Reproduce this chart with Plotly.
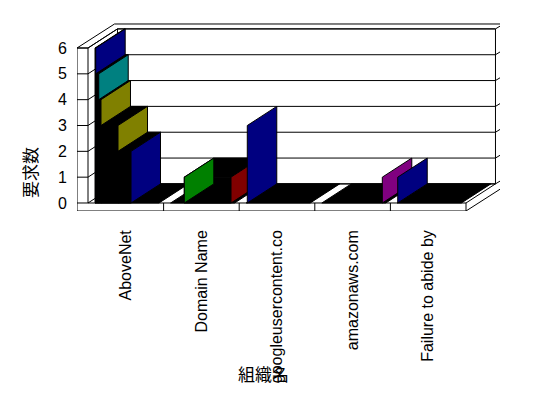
import plotly.graph_objects as go

# ---------------- data ----------------
categories = ["AboveNet", "Domain Name", "googleusercontent.co", "amazonaws.com", "Failure to abide by"]
value_ticks = [0, 1, 2, 3, 4, 5, 6]

bar_category = [0, 0, 0, 0, 0, 1, 1, 2, 3, 4]
bar_value = [6, 5, 4, 3, 2, 1, 1, 3, 1, 1]
bar_color = ["#000080", "#008080", "#808000", "#808000", "#000080",
             "#800000", "#008000", "#000080", "#800080", "#000080"]

# ---------------- layout of the pseudo-3D drawing ----------------
# bar front edges as fractions of a category slot
bar_front_left = [0.093, 0.102, 0.142, 0.172, 0.397, 0.274, 0.274, 0.107, 0.893, 0.097]
bar_front_right = [0.102, 0.142, 0.172, 0.397, 0.569, 0.892, 0.274, 0.107, 0.893, 0.097]
floor_span = (0.093, 0.939)

DX, DY = 0.39, 0.74          # depth offset (category units, value units)
WALL_L = 0.1455              # left wall thickness (category units)
FLOOR_T = 0.31               # floor thickness (value units)
BX, BY = 0.106, 0.19         # back wall thickness offset
NC = len(categories)
VMAX = max(value_ticks)

fig = go.Figure()


def poly(xs, ys, fill, line="black", width=1):
    fig.add_trace(go.Scatter(x=list(xs) + [xs[0]], y=list(ys) + [ys[0]], mode="lines",
                             fill="toself", fillcolor=fill,
                             line=dict(color=line, width=width),
                             hoverinfo="skip", showlegend=False))


def seg(x0, y0, x1, y1):
    fig.add_trace(go.Scatter(x=[x0, x1], y=[y0, y1], mode="lines",
                             line=dict(color="black", width=1),
                             hoverinfo="skip", showlegend=False))


# outer frame: left wall front face + floor front face
poly([-WALL_L, 0, 0, NC, NC, -WALL_L],
     [VMAX, VMAX, 0, 0, -FLOOR_T, -FLOOR_T], "white")
# back wall + top
poly([DX, NC + DX, NC + DX, DX], [DY, DY, VMAX + DY, VMAX + DY], "white")
seg(-WALL_L, VMAX, -WALL_L + DX + BX, VMAX + DY + BY)
seg(-WALL_L + DX + BX, VMAX + DY + BY, NC + DX + BX, VMAX + DY + BY)
seg(NC + DX + BX, VMAX + DY + BY, NC + DX + BX, -FLOOR_T + DY + BY)
seg(NC, -FLOOR_T, NC + DX + BX, -FLOOR_T + DY + BY)
seg(NC, 0, NC + DX, DY)
seg(0, VMAX, DX, VMAX + DY)
for v in value_ticks:
    seg(-WALL_L, v, 0, v)
    seg(0, v, DX, v + DY)
    seg(DX, v + DY, NC + DX, v + DY)
    seg(NC + DX, v + DY, NC + DX + BX, v + DY + BY)
for c in range(1, NC):
    seg(c, -FLOOR_T, c, 0)

# floor (zero-height bars)
for c in range(NC):
    a, b = c + floor_span[0], c + floor_span[1]
    poly([a, b, b + DX, a + DX], [0, 0, DY, DY], "black")

# bars
for cat, val, col, fl, fr in zip(bar_category, bar_value, bar_color, bar_front_left, bar_front_right):
    xl, xr = cat + fl, cat + fr
    if xr > xl:
        poly([xl, xr, xr, xl], [0, 0, val, val], "black")
        poly([xl, xr, xr + DX, xl + DX], [val, val, val + DY, val + DY], "black")
    poly([xr, xr + DX, xr + DX, xr], [0, DY, val + DY, val], col)

W, H = 548, 398
ML, MR, MT, MB = 77, 48, 20, 187
XU, YU = 75.6, 25.83
pw, ph = W - ML - MR, H - MT - MB

tickfont = dict(family="Liberation Sans, Arial, sans-serif", size=16, color="black")
cjk = dict(family="Noto Sans CJK JP", size=17, color="black")

fig.update_layout(
    width=W, height=H, margin=dict(l=ML, r=MR, t=MT, b=MB, autoexpand=False),
    paper_bgcolor="white", plot_bgcolor="white",
    xaxis=dict(range=[-WALL_L, -WALL_L + pw / XU], showgrid=False, zeroline=False,
               showline=False, tickvals=[c + 0.5 for c in range(NC)], ticktext=categories,
               tickangle=-90, ticks="", tickfont=tickfont, ticklabelstandoff=15, fixedrange=True),
    yaxis=dict(range=[-FLOOR_T, -FLOOR_T + ph / YU], showgrid=False, zeroline=False,
               showline=False, tickvals=value_ticks, ticktext=[str(v) for v in value_ticks],
               ticks="", tickfont=tickfont, ticklabelstandoff=9, fixedrange=True),
    annotations=[
        dict(text="要求数", textangle=-90, xref="paper", yref="paper",
             x=(29 - ML) / pw, y=(MT + ph - 173) / ph, xanchor="center", yanchor="middle",
             showarrow=False, font=cjk),
        dict(text="組織名", xref="paper", yref="paper",
             x=(263 - ML) / pw, y=(MT + ph - 373) / ph, xanchor="center", yanchor="middle",
             showarrow=False, font=cjk),
    ],
)

fig.write_html("out.html", config={"displayModeBar": False},
               post_script="document.body.style.margin='0px';")
